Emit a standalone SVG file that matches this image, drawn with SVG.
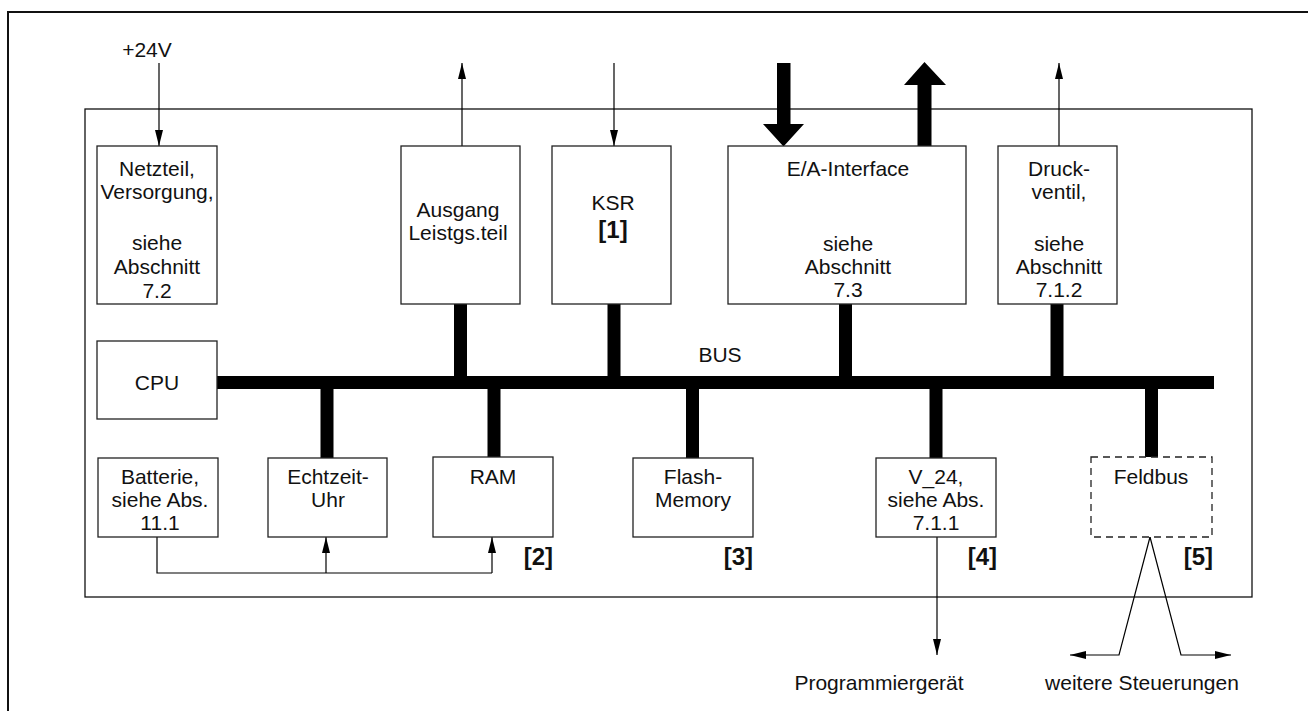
<svg xmlns="http://www.w3.org/2000/svg" width="1308" height="711" viewBox="0 0 1308 711">
<defs>
<style>
text{font-family:"Liberation Sans",Arial,sans-serif;font-size:21px;fill:#111;text-anchor:middle}
.b{font-weight:bold;font-size:24px}
.e{text-anchor:end}
.box{fill:#fff;stroke:#222;stroke-width:1.3}
.dash{stroke-dasharray:7 5}
.ln{fill:none;stroke:#000;stroke-width:1.2}
.thick{fill:#000;stroke:none}
</style>
<marker id="arr" viewBox="0 0 16 8" refX="16" refY="4" markerWidth="16" markerHeight="8" orient="auto" markerUnits="userSpaceOnUse"><path d="M0,0 L16,4 L0,8 z" fill="#000"/></marker>
</defs>
<rect width="1308" height="711" fill="#fff"/>
<path d="M8,711 V12 H1308" fill="none" stroke="#111" stroke-width="2"/>
<rect x="85" y="109" width="1167" height="488" fill="none" stroke="#111" stroke-width="1.3"/>

<g id="connectors">
<rect class="thick" x="217" y="376" width="997" height="13"/>
<rect class="thick" x="454" y="304" width="13" height="72"/>
<rect class="thick" x="607.5" y="304" width="13" height="72"/>
<rect class="thick" x="839" y="304" width="13" height="72"/>
<rect class="thick" x="1050.5" y="304" width="13" height="72"/>
<rect class="thick" x="320.5" y="389" width="13" height="69"/>
<rect class="thick" x="487.5" y="389" width="13" height="68"/>
<rect class="thick" x="686" y="389" width="13" height="69"/>
<rect class="thick" x="929.5" y="389" width="13" height="69"/>
<rect class="thick" x="1145" y="389" width="13" height="68"/>
<polygon class="thick" points="777,63 790.5,63 790.5,124 804,124 783.5,146.5 763,124 777,124"/>
<polygon class="thick" points="917.5,146 931.5,146 931.5,85 946,85 924.5,62 904,85 917.5,85"/>
<line class="ln" x1="159" y1="63" x2="159" y2="146" marker-end="url(#arr)"/>
<line class="ln" x1="462" y1="146" x2="462" y2="63" marker-end="url(#arr)"/>
<line class="ln" x1="614" y1="63" x2="614" y2="146" marker-end="url(#arr)"/>
<line class="ln" x1="1059" y1="146" x2="1059" y2="63" marker-end="url(#arr)"/>
<polyline class="ln" points="157,537 157,573 492,573"/>
<line class="ln" x1="326" y1="573" x2="326" y2="537" marker-end="url(#arr)"/>
<line class="ln" x1="492" y1="573" x2="492" y2="537" marker-end="url(#arr)"/>
<line class="ln" x1="937" y1="537" x2="937" y2="655" marker-end="url(#arr)"/>
<polyline class="ln" points="1150,537 1119,655 1070,655" marker-end="url(#arr)"/>
<polyline class="ln" points="1150,537 1181,655 1231,655" marker-end="url(#arr)"/>
<text x="147" y="57">+24V</text>
<text x="720" y="362">BUS</text>
<text x="879" y="690">Programmiergerät</text>
<text x="1142" y="690">weitere Steuerungen</text>
</g>

<g id="netzteil"><rect class="box" x="97" y="146" width="120" height="158"/>
<text x="157" y="176">Netzteil,</text><text x="157" y="199">Versorgung,</text><text x="157" y="250">siehe</text><text x="157" y="274">Abschnitt</text><text x="157" y="298">7.2</text></g>
<g id="ausgang"><rect class="box" x="401" y="146" width="119" height="158"/>
<text x="458" y="217">Ausgang</text><text x="458" y="240">Leistgs.teil</text></g>
<g id="ksr"><rect class="box" x="552" y="146" width="119" height="158"/>
<text x="613" y="210">KSR</text><text class="b" x="613" y="238">[1]</text></g>
<g id="ea"><rect class="box" x="728" y="146" width="238" height="158"/>
<text x="848" y="176">E/A-Interface</text><text x="848" y="251">siehe</text><text x="848" y="274">Abschnitt</text><text x="848" y="297">7.3</text></g>
<g id="druck"><rect class="box" x="998" y="146" width="119" height="158"/>
<text x="1059" y="176">Druck-</text><text x="1059" y="199">ventil,</text><text x="1059" y="251">siehe</text><text x="1059" y="274">Abschnitt</text><text x="1059" y="297">7.1.2</text></g>
<g id="cpu"><rect class="box" x="97" y="341" width="120" height="78"/>
<text x="157" y="390">CPU</text></g>
<g id="batterie"><rect class="box" x="98" y="458" width="120" height="79"/>
<text x="160" y="484">Batterie,</text><text x="160" y="507">siehe Abs.</text><text x="160" y="530">11.1</text></g>
<g id="echtzeit"><rect class="box" x="268" y="458" width="119" height="79"/>
<text x="328" y="484">Echtzeit-</text><text x="328" y="507">Uhr</text></g>
<g id="ram"><rect class="box" x="433" y="457" width="120" height="80"/>
<text x="493" y="484">RAM</text><text class="b e" x="553" y="565">[2]</text></g>
<g id="flash"><rect class="box" x="633" y="458" width="120" height="79"/>
<text x="693" y="484">Flash-</text><text x="693" y="507">Memory</text><text class="b e" x="753" y="565">[3]</text></g>
<g id="v24"><rect class="box" x="876" y="458" width="120" height="79"/>
<text x="936" y="484">V_24,</text><text x="936" y="507">siehe Abs.</text><text x="936" y="530">7.1.1</text><text class="b e" x="997" y="565">[4]</text></g>
<g id="feldbus"><rect class="box dash" x="1091" y="457" width="121" height="80"/>
<text x="1151" y="484">Feldbus</text><text class="b e" x="1213" y="565">[5]</text></g>
</svg>
